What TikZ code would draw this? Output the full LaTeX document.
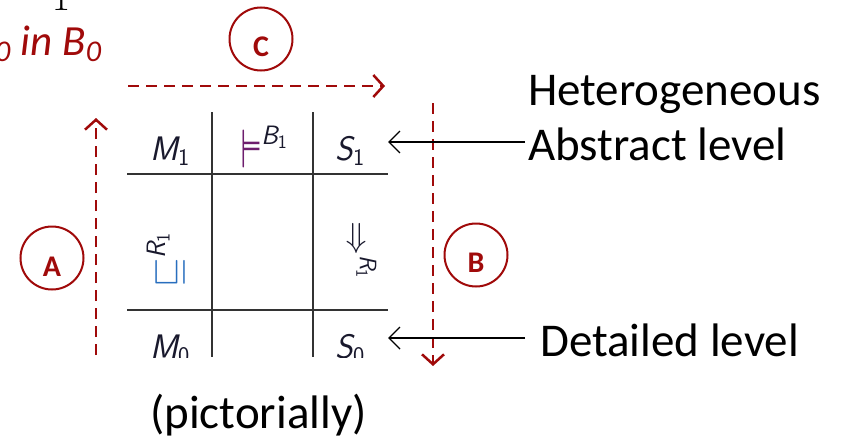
\RequirePackage{fix-cm}
\documentclass[tikz,border=0pt]{standalone}
\usepackage{amsmath}
\usepackage{fontspec}
\setmainfont{Carlito}
\usetikzlibrary{arrows.meta}
\definecolor{dred}{RGB}{160,10,10}
\definecolor{tblue}{RGB}{40,110,190}
\definecolor{tpurple}{RGB}{110,30,110}
\definecolor{tink}{RGB}{25,25,45}
\newcommand{\sv}[1]{\text{\sffamily\itshape #1}}
\newcommand{\sn}[1]{\text{\sffamily #1}}
\tikzset{
  x=1pt, y=-1pt,
  gridline/.style={line width=1.3pt, draw=black!80},
  cell/.style={inner sep=0pt, text=tink, font=\fontsize{34}{40}\selectfont},
  bigcell/.style={inner sep=0pt, text=tink, font=\fontsize{38}{44}\selectfont},
  redarrow/.style={draw=dred, line width=2.7pt, dash pattern=on 11pt off 7pt, -{Straight Barb[length=10pt,width=22pt,line width=2.5pt]}},
  blackarrow/.style={draw=black, line width=1.4pt, -{Straight Barb[length=11pt,width=22pt,line width=1.4pt]}},
  bigtext/.style={inner sep=0pt, font=\fontsize{47}{56}\selectfont},
  badge/.style={circle, draw=dred, line width=2pt, minimum size=63pt, inner sep=0pt},
  badgeletter/.style={inner sep=0pt, text=dred, font=\fontsize{30}{36}\selectfont\bfseries},
}
\begin{document}
\begin{tikzpicture}
\useasboundingbox (0,0) rectangle (842,439);
\clip (0,0) rectangle (842,439);
\fill[white] (0,0) rectangle (842,439);

% clipped remains at the top left
\node[inner sep=0pt, anchor=base, font=\fontsize{40}{48}\selectfont] (one) at (61,10) {$1$};
\node[inner sep=0pt, anchor=base west, text=dred, font=\fontsize{43}{52}\selectfont\itshape] (inb) at (-5,55) {\textsubscript{0} in B\textsubscript{0}};

% table (clipped at the bottom)
\begin{scope}
\clip (100,100) rectangle (400,357);
\draw[gridline] (127,174) -- (388,174);
\draw[gridline] (127,310) -- (388,310);
\draw[gridline] (212,112) -- (212,357);
\draw[gridline] (313,112) -- (313,357);
\node[cell] (m1) at (170,151) {$\sv{M}_{\sn{1}}$};
\node[bigcell] (mod) at (263,147) {$\textcolor{tpurple}{\models}^{\sv{B}_{\sn{1}}}$};
\node[cell] (s1) at (350,151) {$\sv{S}_{\sn{1}}$};
\node[cell] (m0) at (170,349) {$\sv{M}_{\sn{0}}$};
\node[cell] (s0) at (350,349) {$\sv{S}_{\sn{0}}$};
\node[bigcell, rotate=90] (ref) at (166,260) {$\textcolor{tblue}{\sqsubseteq}^{\sv{R}_{\sn{1}}}$};
\node[cell, rotate=-90] (imp) at (362,250) {$\Rightarrow^{\sv{R}_{\sn{1}}}$};
\end{scope}

% red dashed arrows
\coordinate (a0) at (96,355);
\coordinate (a1) at (96,118);
\coordinate (c0) at (128,86);
\coordinate (c1) at (385,86);
\coordinate (b0) at (433,103);
\coordinate (b1) at (433,366);
\draw[redarrow] (a0) -- (a1);
\draw[redarrow] (c0) -- (c1);
\draw[redarrow] (b0) -- (b1);

% badges
\node[badge] (cA) at (52,258) {};
\node[badgeletter] (lA) at (52,267) {A};
\node[badge] (cB) at (476,255) {};
\node[badgeletter] (lB) at (476,263) {B};
\node[badge] (cC) at (261,39) {};
\node[badgeletter] (lC) at (261,47) {C};

% right labels
\node[bigtext, anchor=base west] (het) at (528,105) {Heterogeneous};
\node[bigtext, anchor=base west] (abs) at (528,160) {Abstract level};
\node[bigtext, anchor=base west] (det) at (540,356) {Detailed level};
\coordinate (t1) at (388,142);
\coordinate (t0) at (388,338);
\draw[blackarrow] (abs.west |- t1) ++(-3,0) -- (t1);
\draw[blackarrow] (det.west |- t0) ++(-15,0) -- (t0);

\node[bigtext, anchor=base west] (pic) at (150,428) {(pictorially)};
\end{tikzpicture}
\end{document}
